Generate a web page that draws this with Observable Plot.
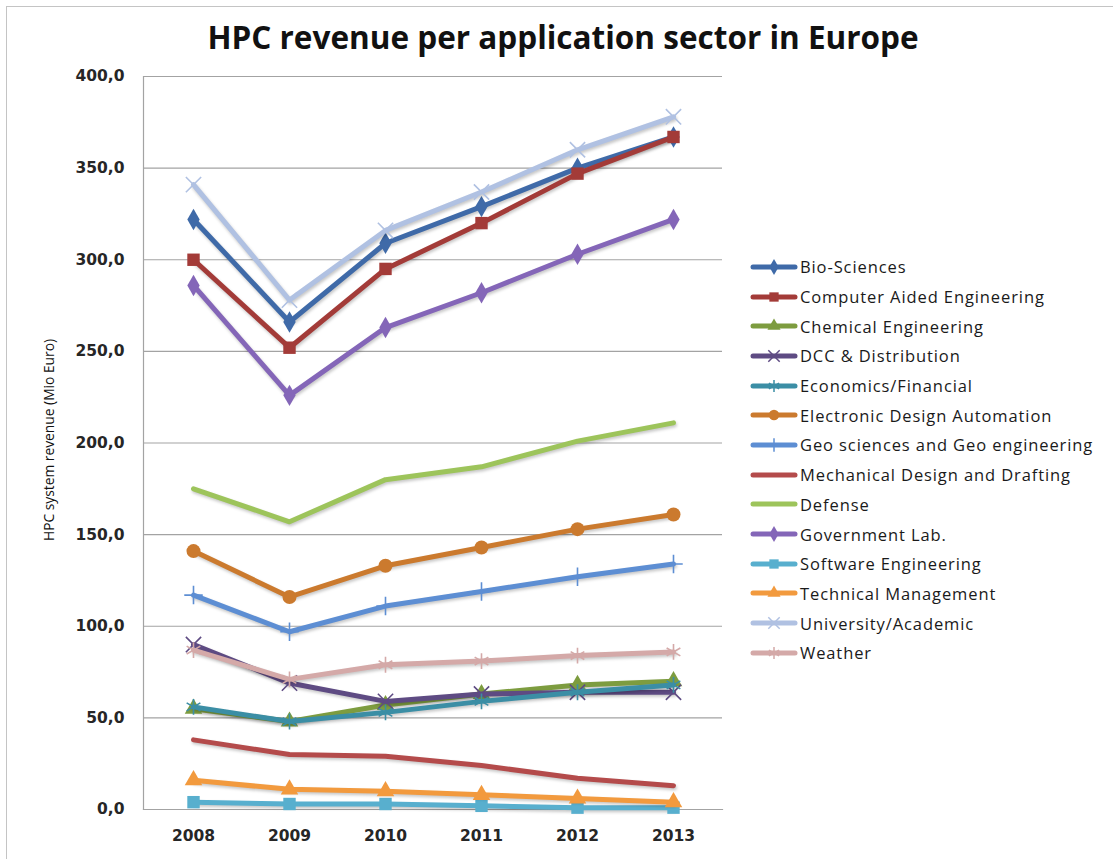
<!DOCTYPE html>
<html><head><meta charset="utf-8">
<script src="https://cdn.jsdelivr.net/npm/d3@7"></script>
<script src="https://cdn.jsdelivr.net/npm/@observablehq/plot@0.6"></script>
<style>
body{margin:0;background:#fff;}
#wrap{position:relative;width:1113px;height:859px;overflow:hidden;font-family:"Open Sans",sans-serif;background:#fff;}
#frame{position:absolute;left:6px;top:6px;width:1120px;height:870px;border:1.5px solid #c4c4c4;box-sizing:border-box;}
#title{position:absolute;left:0;width:1126px;top:17px;text-align:center;font-weight:700;font-size:31.5px;line-height:40px;color:#111;white-space:nowrap;}
#ytitle{position:absolute;left:48px;top:440px;transform:translate(-50%,-50%) rotate(-90deg);font-family:"Open Sans",sans-serif;font-size:13.8px;color:#111;white-space:nowrap;}
#chart{position:absolute;left:0;top:60px;}
#chart g[aria-label="line"]{filter:drop-shadow(1px 2px 1.5px rgba(0,0,0,0.22));}
#legend{position:absolute;left:750px;top:252px;}
.row{display:flex;align-items:center;height:29.7px;}
.row span{font-size:16.5px;letter-spacing:0.9px;color:#1a1a1a;margin-left:2px;white-space:nowrap;}
</style></head>
<body><div id="wrap"><div id="frame"></div>
<div id="title">HPC revenue per application sector in Europe</div>
<div id="ytitle">HPC system revenue (Mio Euro)</div>
<div id="chart"></div><div id="legend"></div></div>
<script>
const years = ["2008","2009","2010","2011","2012","2013"];
const sectors = ["Bio-Sciences","Computer Aided Engineering","Chemical Engineering","DCC & Distribution","Economics/Financial","Electronic Design Automation","Geo sciences and Geo engineering","Mechanical Design and Drafting","Defense","Government Lab.","Software Engineering","Technical Management","University/Academic","Weather"];
const bioSciences   = [322, 266, 309, 329, 350, 367];
const cae           = [300, 252, 295, 320, 347, 367];
const chemical      = [55, 48, 57, 63, 68, 70];
const dcc           = [90, 69, 59, 63, 64, 64];
const economics     = [56, 48, 53, 59, 64, 68];
const eda           = [141, 116, 133, 143, 153, 161];
const geo           = [117, 97, 111, 119, 127, 134];
const mechanical    = [38, 30, 29, 24, 17, 13];
const defense       = [175, 157, 180, 187, 201, 211];
const government    = [286, 226, 263, 282, 303, 322];
const software      = [4, 3, 3, 2, 1, 1];
const technical     = [16, 11, 10, 8, 6, 4];
const university    = [341, 278, 316, 337, 360, 378];
const weather       = [87, 71, 79, 81, 84, 86];
const yTicks = [0, 50, 100, 150, 200, 250, 300, 350, 400];

const seriesValues = [bioSciences, cae, chemical, dcc, economics, eda, geo, mechanical, defense, government, software, technical, university, weather];
const colors = ["#3F6AA8","#A33B38","#7D9C3F","#5E4B83","#3B8EA5","#CB7A2E","#5D8ED3","#B44B4B","#9DC45B","#8466B8","#58AFCE","#F29A3E","#B0C1E2","#D4A9A8"];
const symbols = ["diamond","square","triangle","times","asterisk","circle","plus",null,null,"diamond","square","triangle","times","asterisk"];
const filled = {diamond:true, square:true, triangle:true, circle:true};
const sizes = {diamond:6.5, square:7, triangle:6.5, circle:7, times:7, asterisk:7.5, plus:6};

const table = [];
sectors.forEach((s, i) => seriesValues[i].forEach((v, j) => table.push({sector: s, year: years[j], value: v})));

const tickFont = {fontWeight: "bold", fontSize: 15.5, fontFamily: "DejaVu Sans", fill: "#262626", letterSpacing: "0.6px"};
const marks = [
  Plot.gridY(yTicks, {stroke: "#a3a3a3", strokeOpacity: 1, strokeWidth: 1.2}),
  Plot.frame({anchor: "left", stroke: "#a3a3a3", strokeWidth: 1.2}),
  Plot.frame({anchor: "bottom", stroke: "#a3a3a3", strokeWidth: 1.2}),
  Plot.axisY(yTicks, {tickSize: 0, tickPadding: 19, tickFormat: d => d.toFixed(1).replace(".", ","), label: null, ...tickFont}),
  Plot.axisX({tickSize: 0, tickPadding: 20, label: null, ...tickFont})
];
sectors.forEach((s, i) => {
  const d = table.filter(r => r.sector === s);
  marks.push(Plot.line(d, {x: "year", y: "value", stroke: "sector", strokeWidth: 5, strokeLinejoin: "round", strokeLinecap: "round"}));
  const sym = symbols[i];
  if (sym) {
    if (filled[sym]) marks.push(Plot.dot(d, {x: "year", y: "value", symbol: "sector", fill: "sector", r: sizes[sym]}));
    else marks.push(Plot.dot(d, {x: "year", y: "value", symbol: "sector", stroke: "sector", r: sizes[sym], strokeWidth: 1.6}));
  }
});

const chart = Plot.plot({
  width: 740, height: 790,
  marginLeft: 143, marginRight: 18, marginTop: 16, marginBottom: 41,
  x: {type: "point", domain: years, padding: 0.5},
  y: {domain: [0, 400]},
  color: {domain: sectors, range: colors},
  symbol: {domain: sectors, range: symbols.map(s => s || "circle")},
  style: {background: "transparent"},
  marks
});
document.getElementById("chart").appendChild(chart);

// legend
const leg = d3.select("#legend");
const symMap = {diamond: d3.symbolDiamond, square: d3.symbolSquare, triangle: d3.symbolTriangle, circle: d3.symbolCircle, times: d3.symbolTimes, asterisk: d3.symbolAsterisk, plus: d3.symbolPlus};
sectors.forEach((s, i) => {
  const row = leg.append("div").attr("class", "row");
  const svg = row.append("svg").attr("width", 48).attr("height", 20);
  svg.append("line").attr("x1", 3).attr("x2", 45).attr("y1", 10).attr("y2", 10).attr("stroke", colors[i]).attr("stroke-width", 5).attr("stroke-linecap", "round");
  const sym = symbols[i];
  if (sym) {
    const r = sizes[sym] * 0.75;
    const p = svg.append("path").attr("transform", "translate(24,10)").attr("d", d3.symbol(symMap[sym], Math.PI * r * r)());
    if (filled[sym]) p.attr("fill", colors[i]); else p.attr("fill", "none").attr("stroke", colors[i]).attr("stroke-width", 1.5);
  }
  row.append("span").text(s);
});
</script></body></html>
